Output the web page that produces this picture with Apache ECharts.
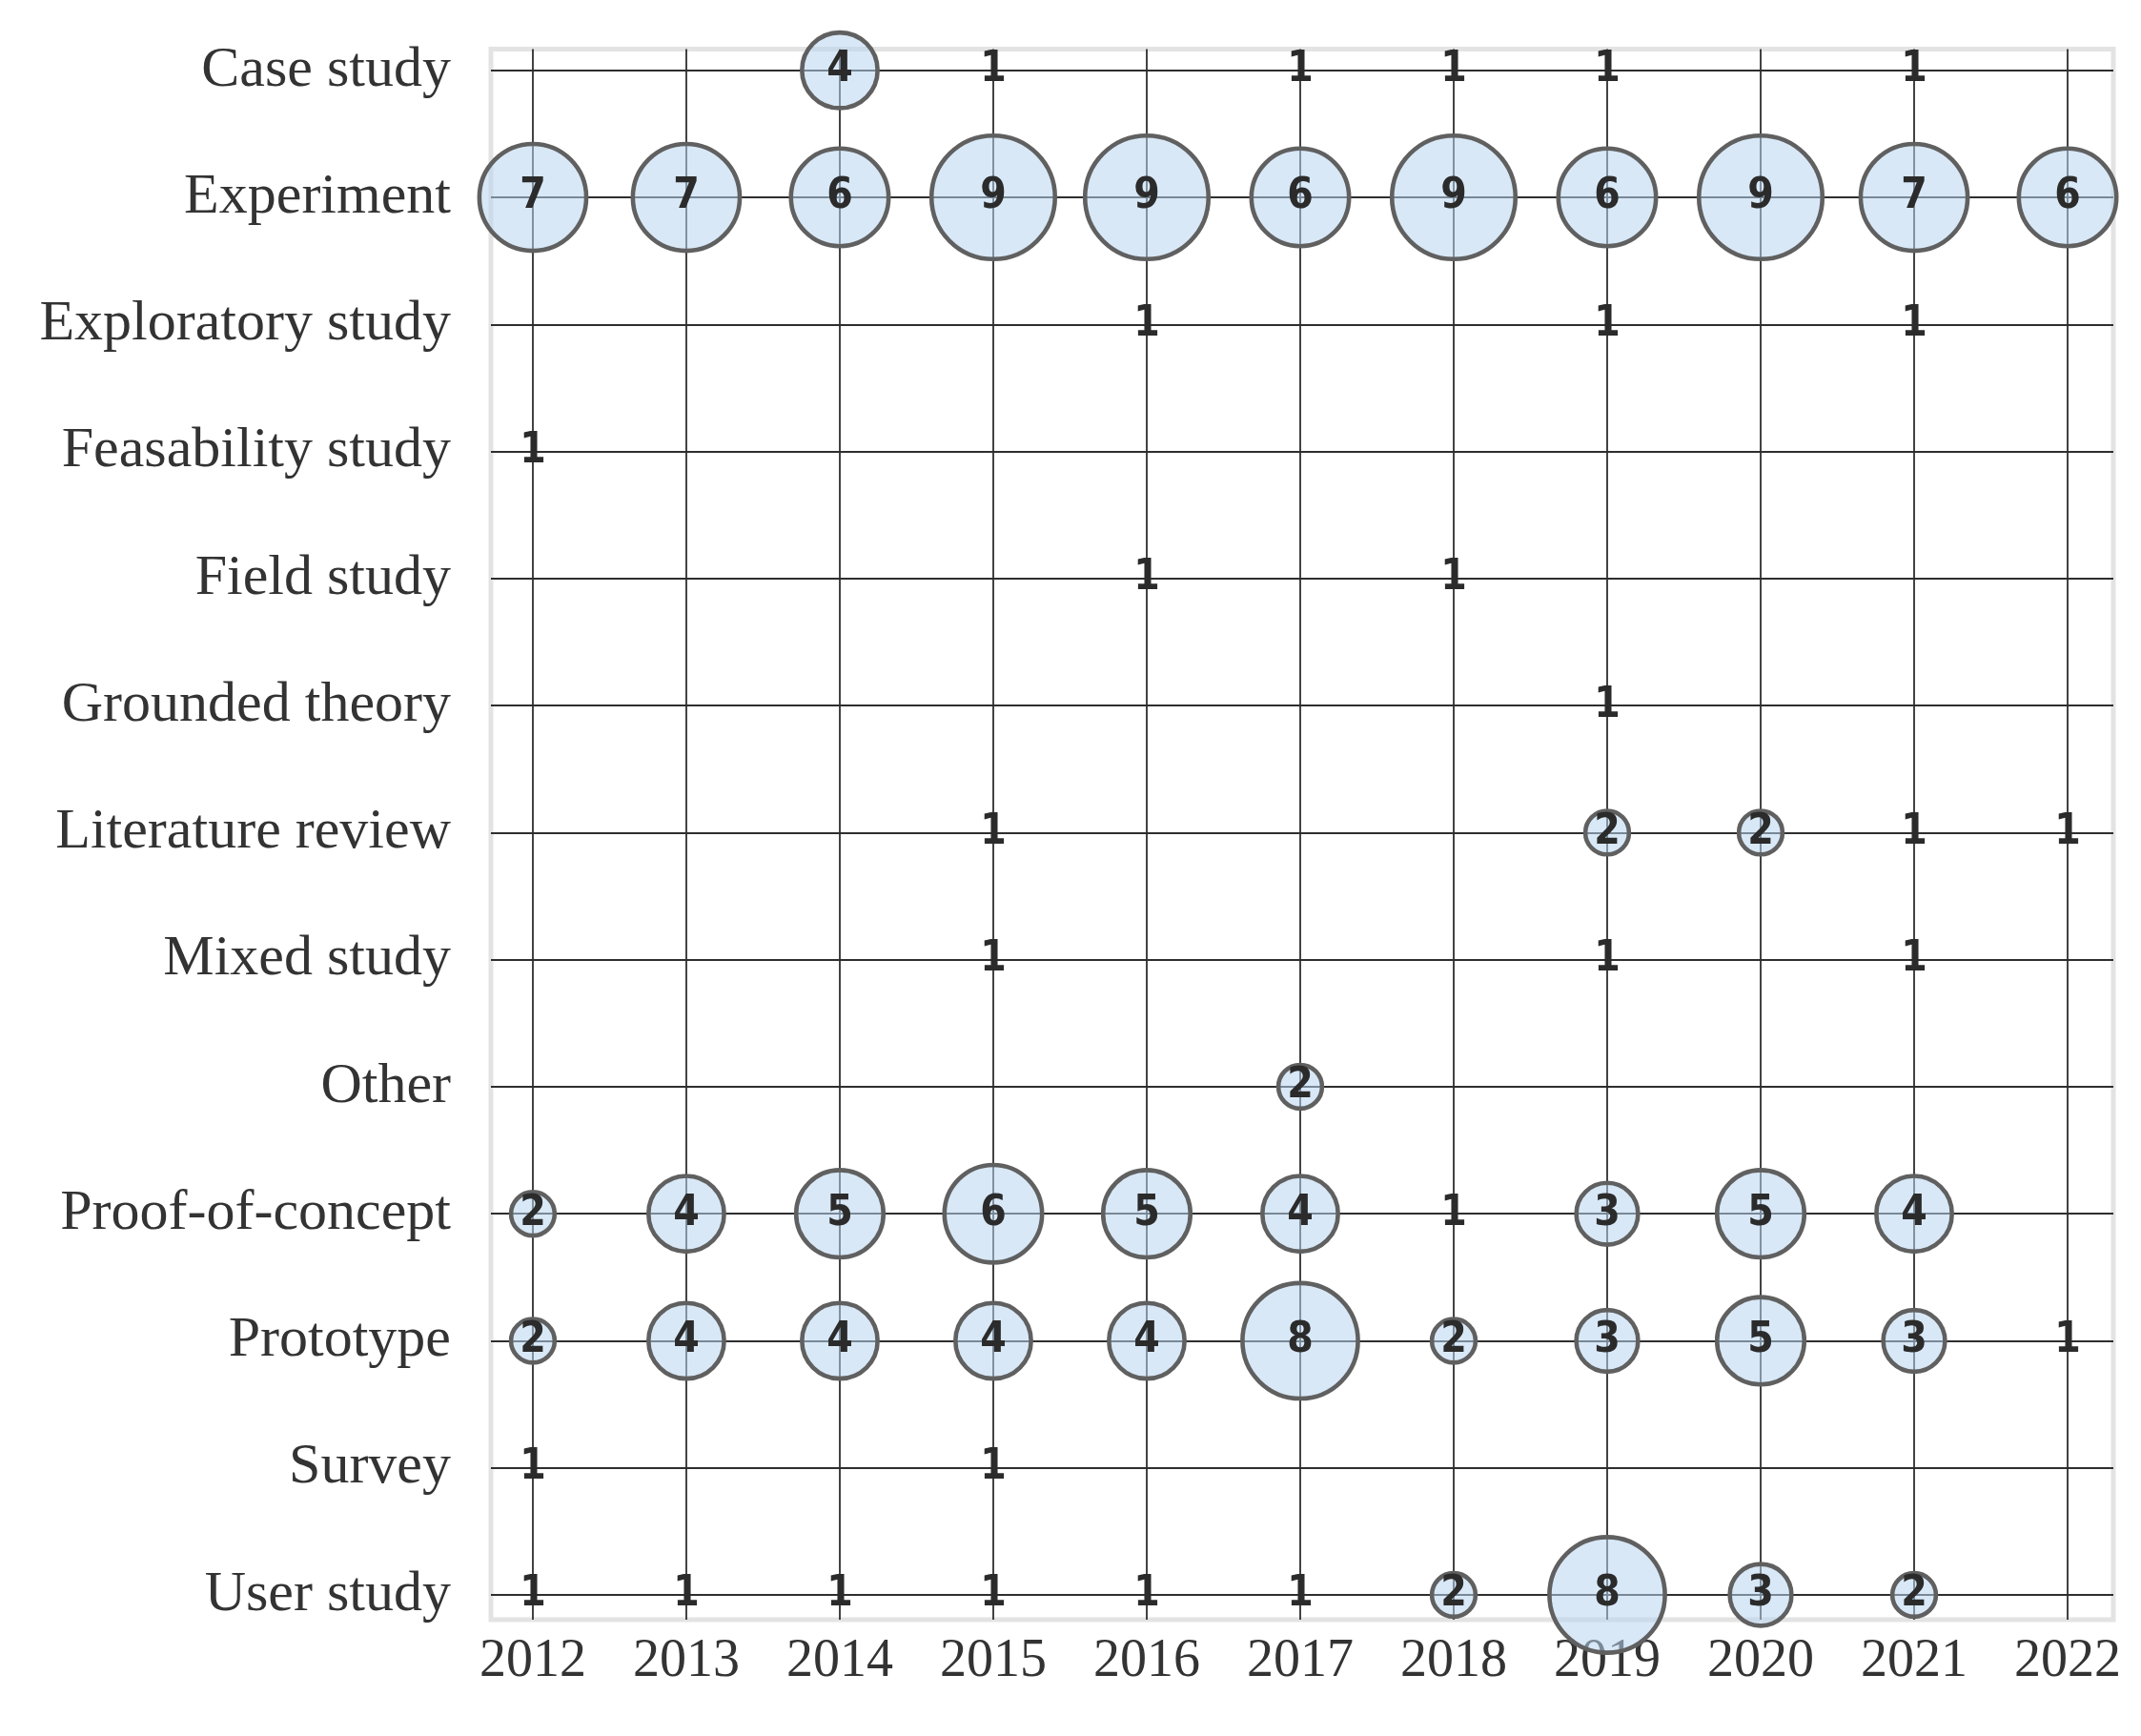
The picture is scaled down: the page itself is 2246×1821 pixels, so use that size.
<!DOCTYPE html>
<html><head><meta charset="utf-8">
<script src="https://cdn.jsdelivr.net/npm/echarts@6/dist/echarts.min.js"></script>
<style>html,body{margin:0;padding:0;background:#fff}#c{width:2246px;height:1821px}</style>
</head><body><div id="c"></div>
<script>
const years = ['2012','2013','2014','2015','2016','2017','2018','2019','2020','2021','2022'];
const methods = ['Case study','Experiment','Exploratory study','Feasability study','Field study','Grounded theory','Literature review','Mixed study','Other','Proof-of-concept','Prototype','Survey','User study'];
const caseStudy    = [0,0,4,1,0,1,1,1,0,1,0];
const experiment   = [7,7,6,9,9,6,9,6,9,7,6];
const exploratory  = [0,0,0,0,1,0,0,1,0,1,0];
const feasability  = [1,0,0,0,0,0,0,0,0,0,0];
const fieldStudy   = [0,0,0,0,1,0,1,0,0,0,0];
const grounded     = [0,0,0,0,0,0,0,1,0,0,0];
const literature   = [0,0,0,1,0,0,0,2,2,1,1];
const mixedStudy   = [0,0,0,1,0,0,0,1,0,1,0];
const other        = [0,0,0,0,0,2,0,0,0,0,0];
const proofConcept = [2,4,5,6,5,4,1,3,5,4,0];
const prototype    = [2,4,4,4,4,8,2,3,5,3,1];
const survey       = [1,0,0,1,0,0,0,0,0,0,0];
const userStudy    = [1,1,1,1,1,1,2,8,3,2,0];
const rows = [caseStudy,experiment,exploratory,feasability,fieldStudy,grounded,literature,mixedStudy,other,proofConcept,prototype,survey,userStudy];

const data = [];
rows.forEach((row, yi) => {
  row.forEach((n, xi) => {
    if (n > 0) {
      const item = {value: [xi, yi, n], symbolSize: 45.8 * Math.sqrt(n - 1)};
      if (n === 1) { item.symbolSize = 1; item.itemStyle = {borderWidth: 0, color: 'rgba(0,0,0,0)'}; }
      data.push(item);
    }
  });
});

const isInt = v => Math.abs(v - Math.round(v)) < 1e-6;
const chart = echarts.init(document.getElementById('c'), null, {renderer: 'canvas'});
chart.setOption({
  backgroundColor: '#ffffff',
  animation: false,
  grid: {left: 515, top: 51.5, right: 29, bottom: 122, show: true, borderColor: '#e3e3e3', borderWidth: 5, backgroundColor: 'transparent'},
  xAxis: {
    type: 'value', min: -0.273, max: 10.298, minInterval: 1, maxInterval: 1, splitNumber: 11,
    axisLine: {show: false}, axisTick: {show: false},
    splitLine: {show: true, showMinLine: false, showMaxLine: false, lineStyle: {color: '#2e2e2e', width: 1.8}},
    axisLabel: {
      margin: 16, fontFamily: 'Liberation Serif', fontSize: 56, color: '#333',
      showMinLabel: true, showMaxLabel: true, hideOverlap: false,
      formatter: v => isInt(v) ? (years[Math.round(v)] || '') : ''
    }
  },
  yAxis: {
    type: 'value', inverse: true, min: -0.167, max: 12.195, minInterval: 1, maxInterval: 1, splitNumber: 12,
    axisLine: {show: false}, axisTick: {show: false},
    splitLine: {show: true, showMinLine: false, showMaxLine: false, lineStyle: {color: '#2e2e2e', width: 1.8}},
    axisLabel: {
      margin: 42, fontFamily: 'Liberation Serif', fontSize: 60, color: '#333',
      hideOverlap: false,
      formatter: v => isInt(v) ? (methods[Math.round(v)] || '') : ''
    }
  },
  series: [{
    type: 'scatter',
    clip: false,
    data: data,
    itemStyle: {color: 'rgba(183,212,240,0.54)', borderColor: '#606060', borderWidth: 4.6, opacity: 1},
    label: {
      show: true, position: 'inside',
      formatter: p => String(p.value[2]),
      fontFamily: 'DejaVu Sans Condensed', fontWeight: 'bold', fontSize: 44, color: '#2b2b2b'
    },
    emphasis: {disabled: true}
  }]
});
</script></body></html>
